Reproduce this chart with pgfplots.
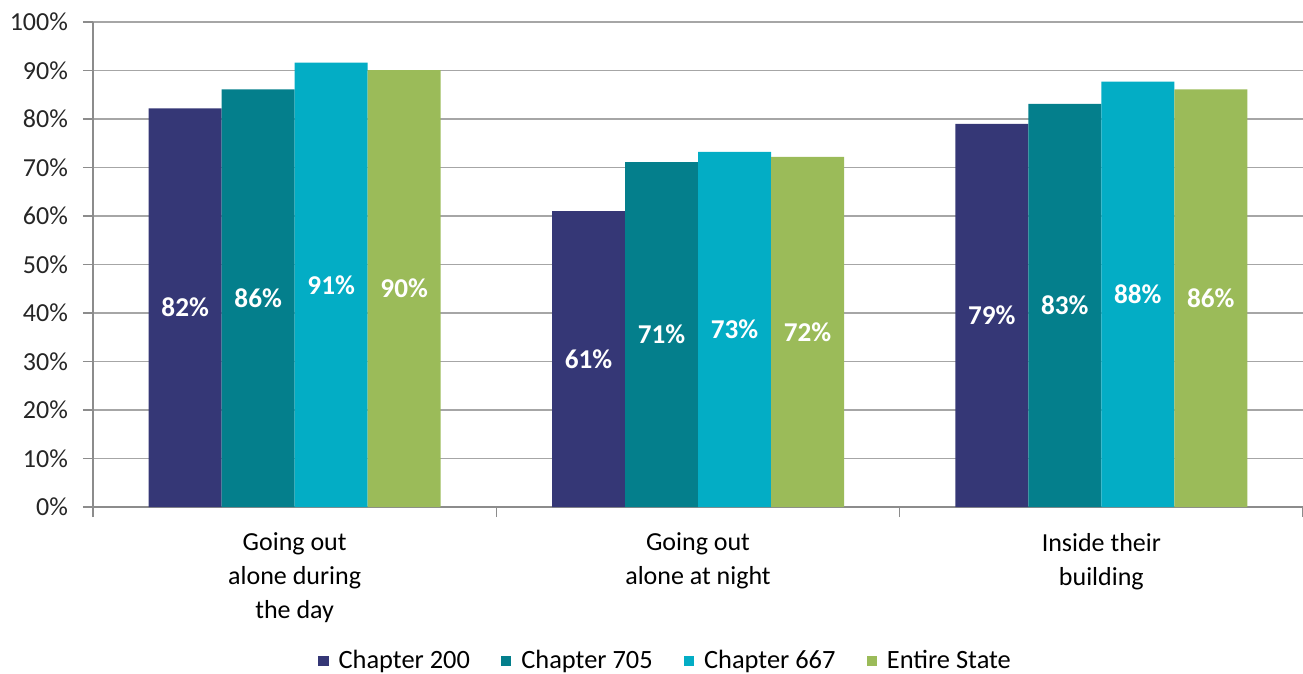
\documentclass[border=0pt]{standalone}
\usepackage{fontspec}
\setmainfont{Carlito}
\usepackage{pgfplots}
\pgfplotsset{compat=1.18}
\definecolor{chA}{HTML}{353776}
\definecolor{chB}{HTML}{047F8C}
\definecolor{chC}{HTML}{03ADC5}
\definecolor{chD}{HTML}{9BBB59}
\definecolor{gridc}{HTML}{A6A6A6}
\definecolor{axisc}{HTML}{8C8C8C}

\begin{document}
\begin{tikzpicture}
\begin{axis}[
    name=ax,
    scale only axis,
    width=605pt, height=242.5pt,
    xmin=-0.5, xmax=2.5,
    ymin=0, ymax=100,
    ybar=0pt, bar width=36.5pt,
    axis lines*=left,
    axis line style={axisc, line width=0.8pt},
    tick align=outside,
    major tick length=5pt, minor tick length=5pt,
    tick style={axisc, line width=0.8pt},
    xtick={0,1,2},
    xticklabels={{Going out\\alone during\\the day},{Going out\\alone at night},{Inside their\\building}},
    major x tick style={draw=none},
    minor xtick={-0.5,0.5,1.5,2.5},
    xticklabel style={align=center, font=\fontsize{13}{17}\selectfont, text=black, yshift=-4.5pt},
    ytick={0,10,...,100},
    yticklabels={0\%,10\%,20\%,30\%,40\%,50\%,60\%,70\%,80\%,90\%,100\%},
    yticklabel style={font=\fontsize{13}{15}\selectfont, text=black!85, xshift=-4pt},
    ymajorgrids,
    grid style={gridc, line width=0.8pt},
    visualization depends on={y \as \rawy},
    nodes near coords,
    point meta=explicit symbolic,
    every node near coord/.append style={font=\fontsize{13.6}{15}\selectfont\bfseries, text=white,
        anchor=center, shift={(axis direction cs:0,-\rawy/2)}},
    legend style={at={(0.474,-0.317)}, anchor=center, draw=none, fill=none,
        font=\fontsize{13.2}{15}\selectfont, legend columns=4,
        /tikz/every odd column/.append style={column sep=3pt},
        /tikz/every even column/.append style={column sep=13.5pt}},
    legend image code/.code={\fill[#1] (0pt,-2.6pt) rectangle (5.2pt,2.6pt);},
]
\addplot[fill=chA, draw=none] coordinates {(0,82.2) [82\%] (1,61.0) [61\%] (2,79.0) [79\%]};
\addplot[fill=chB, draw=none] coordinates {(0,86.1) [86\%] (1,71.1) [71\%] (2,83.1) [83\%]};
\addplot[fill=chC, draw=none] coordinates {(0,91.6) [91\%] (1,73.2) [73\%] (2,87.7) [88\%]};
\addplot[fill=chD, draw=none] coordinates {(0,90.1) [90\%] (1,72.2) [72\%] (2,86.1) [86\%]};
\legend{Chapter 200,Chapter 705,Chapter 667,Entire State}
\end{axis}
\pgfresetboundingbox
\path[use as bounding box] ([xshift=-46.5pt,yshift=-83pt]ax.south west) rectangle ([yshift=11pt]ax.north east);
\end{tikzpicture}
\end{document}
